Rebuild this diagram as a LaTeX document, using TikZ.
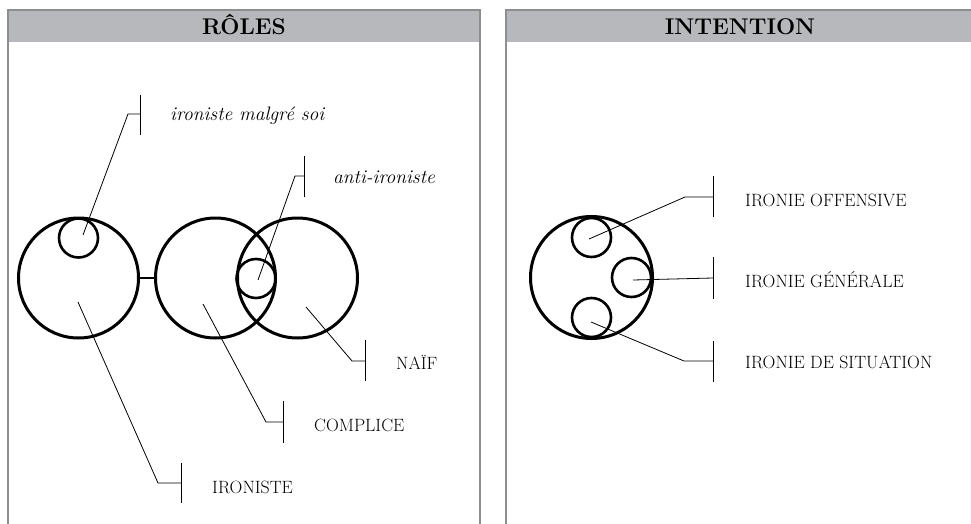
\documentclass[tikz,border=0pt]{standalone}
\usepackage{fontspec}
\definecolor{headfill}{HTML}{B7B8BC}
\definecolor{panelline}{HTML}{8E8E90}
\begin{document}
\begin{tikzpicture}[x=1pt,y=-1pt,
  panel/.style={draw=panelline, line width=2pt},
  head/.style={fill=headfill},
  title/.style={anchor=base, inner sep=0pt, font=\fontsize{22.7}{26}\selectfont\bfseries},
  big/.style={circle, draw, line width=3pt, minimum size=120pt, inner sep=0pt},
  small/.style={circle, draw, line width=2.6pt, minimum size=39pt, inner sep=0pt},
  leader/.style={line width=0.8pt},
  tickmark/.style={line width=0.9pt},
  lab/.style={anchor=base west, inner sep=0pt, font=\fontsize{17.8}{21}\selectfont},
  itlab/.style={anchor=base west, inner sep=0pt, font=\fontsize{19.5}{23}\selectfont\itshape}]
\useasboundingbox (0,0) rectangle (971,524);
% panels
\fill[head] (8,10) rectangle (480,42);
\fill[head] (506,10) rectangle (985,42);
\draw[panel] (8,540) -- (8,10) -- (480,10) -- (480,540);
\draw[panel] (506,540) -- (506,10) -- (985,10);
\node[title] (t1) at (244,35) {RÔLES};
\node[title] (t2) at (740,35) {INTENTION};

% ---------- RÔLES ----------
\node[big] (c1) at (78.5,278) {};
\node[big] (c2) at (215.5,278) {};
\node[big] (c3) at (297.5,278) {};
\node[small] (s1) at (78.5,238) {};
\node[small] (s2) at (256,278.5) {};
\draw[line width=2.6pt] (c1.east) -- (c2.west);

% ironiste malgré soi
\coordinate (a1) at (83,235);
\coordinate (e1) at (128,114);
\coordinate (k1t) at (140,95);
\coordinate (k1b) at (140,135);
\draw[leader] (a1) -- (e1) -- (k1t |- e1);
\draw[tickmark] (k1t) -- (k1b);
\node[itlab] (l1) at (170,121) {ironiste malgré soi};

% anti-ironiste
\coordinate (a2) at (258,280);
\coordinate (e2) at (295,176);
\coordinate (k2t) at (304,156);
\coordinate (k2b) at (304,197);
\draw[leader] (a2) -- (e2) -- (k2t |- e2);
\draw[tickmark] (k2t) -- (k2b);
\node[itlab] (l2) at (333,183) {anti-ironiste};

% NAÏF
\coordinate (a3) at (306,307);
\coordinate (e3) at (352,361);
\coordinate (k3t) at (365,340);
\coordinate (k3b) at (365,381);
\draw[leader] (a3) -- (e3) -- (k3t |- e3);
\draw[tickmark] (k3t) -- (k3b);
\node[lab] (l3) at (396,369) {NAÏF};

% COMPLICE
\coordinate (a4) at (203,304);
\coordinate (e4) at (266,422);
\coordinate (k4t) at (283,401);
\coordinate (k4b) at (283,443);
\draw[leader] (a4) -- (e4) -- (k4t |- e4);
\draw[tickmark] (k4t) -- (k4b);
\node[lab] (l4) at (314,431) {COMPLICE};

% IRONISTE
\coordinate (a5) at (78,302);
\coordinate (e5) at (158,483);
\coordinate (k5t) at (181,463);
\coordinate (k5b) at (181,503);
\draw[leader] (a5) -- (e5) -- (k5t |- e5);
\draw[tickmark] (k5t) -- (k5b);
\node[lab] (l5) at (212,493) {IRONISTE};

% ---------- INTENTION ----------
\node[big, minimum size=122pt] (C) at (591.5,277.5) {};
\node[small] (r1) at (591.5,237.5) {};
\node[small] (r2) at (631.5,277.5) {};
\node[small] (r3) at (591.5,317.5) {};

\coordinate (b1) at (589,239);
\coordinate (f1) at (685,197);
\coordinate (m1t) at (713,176);
\coordinate (m1b) at (713,217);
\draw[leader] (b1) -- (f1) -- (m1t |- f1);
\draw[tickmark] (m1t) -- (m1b);
\node[lab] (n1) at (745,206) {IRONIE OFFENSIVE};

\coordinate (b2) at (633,280);
\coordinate (f2) at (713,278);
\coordinate (m2t) at (713,257);
\coordinate (m2b) at (713,299);
\draw[leader] (b2) -- (f2);
\draw[tickmark] (m2t) -- (m2b);
\node[lab] (n2) at (745,287) {IRONIE GÉNÉRALE};

\coordinate (b3) at (591,322);
\coordinate (f3) at (684,361);
\coordinate (m3t) at (713,341);
\coordinate (m3b) at (713,382);
\draw[leader] (b3) -- (f3) -- (m3t |- f3);
\draw[tickmark] (m3t) -- (m3b);
\node[lab] (n3) at (745,368) {IRONIE DE SITUATION};
\end{tikzpicture}
\end{document}
